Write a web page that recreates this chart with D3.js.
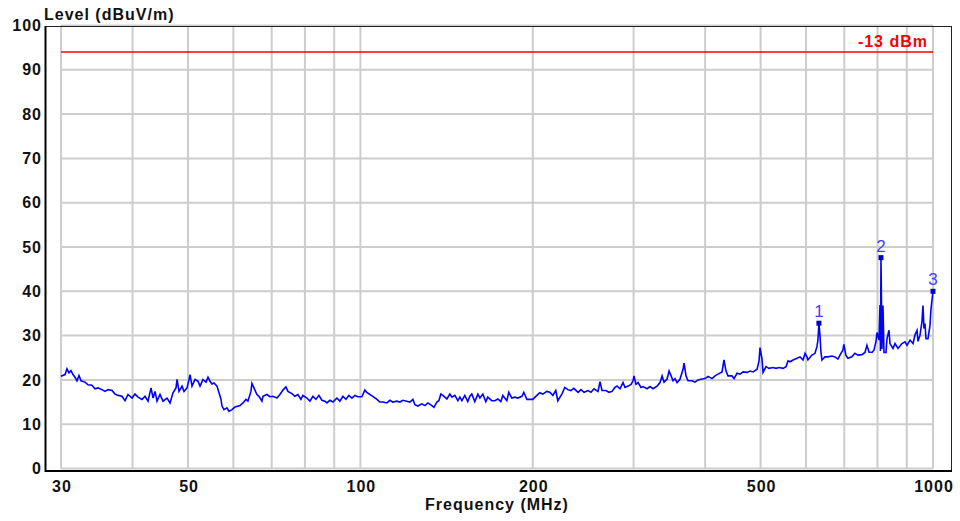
<!DOCTYPE html>
<html>
<head>
<meta charset="utf-8">
<script src="https://cdn.jsdelivr.net/npm/d3@7"></script>
<style>
body{margin:0;background:#fff;}
text{font-family:Arial,'Liberation Sans',sans-serif;}
</style>
</head>
<body>
<script>
// frequency (MHz), level (dBuV/m)
var trace = [
	[30.00,20.8],[30.49,21.2],[30.73,22.5],[30.98,21.6],[31.23,22.1],[31.48,21.2],[31.74,20.6],[31.99,19.8],
	[32.25,21.0],[32.51,19.8],[33.04,19.5],[33.44,18.9],[33.98,18.8],[34.40,18.0],[34.82,18.2],[35.38,17.8],
	[35.81,17.4],[36.24,17.8],[36.83,17.6],[37.28,16.8],[37.73,16.5],[38.34,16.3],[38.81,15.3],[39.28,16.7],
	[39.92,15.9],[40.40,16.8],[40.89,16.1],[41.56,15.6],[42.06,16.3],[42.57,15.2],[43.09,18.2],[43.44,15.9],
	[43.79,17.4],[44.14,15.2],[44.67,16.7],[45.22,15.2],[45.95,15.9],[46.51,14.8],[47.07,17.1],[47.64,18.2],
	[47.84,20.1],[48.22,17.4],[48.81,18.6],[49.20,17.4],[49.80,18.2],[50.20,20.1],[50.40,21.2],[50.81,18.6],
	[51.42,20.1],[52.05,19.7],[52.47,18.6],[53.10,20.1],[53.75,19.5],[54.18,20.6],[54.62,19.7],[55.06,19.1],
	[55.50,19.3],[56.18,18.6],[56.63,17.1],[57.09,15.6],[57.32,14.1],[57.78,13.3],[58.48,13.7],[58.95,12.9],
	[59.67,13.3],[60.15,13.7],[60.39,13.9],[61.61,14.2],[62.36,14.8],[63.11,15.6],[63.62,15.2],[64.39,17.4],
	[64.65,19.2],[65.17,18.2],[65.96,16.7],[66.50,16.3],[67.30,15.2],[67.57,16.3],[68.67,16.7],[69.50,16.2],
	[70.34,16.3],[71.49,15.9],[72.35,16.7],[73.23,17.7],[74.12,18.4],[74.72,17.4],[75.93,16.9],[76.85,16.3],
	[77.78,16.7],[78.73,15.6],[79.36,16.5],[80.65,15.9],[81.63,15.2],[82.62,16.3],[83.62,15.6],[84.63,16.5],
	[85.66,15.4],[86.70,15.2],[87.40,14.8],[88.46,15.4],[89.53,15.0],[90.98,15.9],[92.08,15.2],[93.20,16.3],
	[94.33,15.6],[95.48,16.5],[96.63,15.9],[97.81,16.5],[98.99,16.2],[100.6,16.2],[101.8,17.7],[102.6,17.2],
	[103.9,16.7],[105.1,16.3],[106.9,15.6],[108.1,15.0],[109.5,15.0],[111.2,14.8],[112.6,15.4],[113.9,15.0],
	[115.8,15.2],[117.2,15.0],[118.6,15.4],[120.5,15.2],[122.0,15.0],[123.5,15.6],[124.5,14.4],[126.0,14.1],
	[128.0,14.6],[129.6,14.2],[131.2,14.8],[133.3,14.2],[134.4,13.8],[136.0,15.0],[137.1,15.3],[138.2,16.8],
	[139.3,16.5],[141.6,15.7],[143.3,16.8],[144.5,16.1],[146.2,16.5],[148.0,15.3],[149.2,16.1],[150.4,15.3],
	[152.2,16.5],[154.0,15.1],[155.3,16.3],[156.5,16.8],[158.4,15.1],[160.4,16.8],[161.7,15.9],[163.6,16.8],
	[165.6,15.1],[166.9,16.1],[169.6,15.3],[171.7,15.3],[173.8,15.7],[175.9,15.1],[177.3,16.5],[180.2,15.3],
	[181.6,17.2],[183.8,15.9],[186.1,16.1],[188.3,15.9],[191.4,16.3],[192.9,17.2],[195.3,15.6],[197.6,15.6],
	[200.0,15.6],[203.3,16.5],[205.7,17.1],[208.2,16.8],[211.6,17.4],[214.2,17.2],[216.8,16.5],[219.4,17.6],
	[221.2,15.3],[224.8,16.8],[227.5,18.3],[230.3,17.8],[233.1,17.6],[235.9,18.1],[240.0,17.2],[242.8,17.8],
	[245.8,17.2],[249.7,17.6],[252.8,17.2],[255.8,18.0],[260.0,17.4],[262.1,19.6],[264.2,17.6],[268.4,17.6],
	[271.7,17.2],[275.0,17.4],[278.3,18.3],[280.7,18.6],[284.1,18.0],[287.5,19.4],[289.8,18.3],[293.3,18.6],
	[296.9,19.0],[299.3,19.8],[300.5,20.9],[302.9,19.0],[305.4,19.4],[309.1,18.3],[311.6,18.5],[316.7,18.0],
	[320.5,18.5],[324.4,18.0],[329.7,18.6],[333.7,19.4],[336.4,20.9],[339.1,19.5],[343.2,20.2],[346.0,22.0],
	[348.8,20.9],[351.6,19.8],[354.4,20.3],[357.3,19.4],[361.6,20.2],[366.0,22.4],[367.5,23.8],[370.4,20.9],
	[373.4,19.8],[379.4,19.8],[384.0,19.5],[388.7,20.0],[395.0,20.2],[399.8,20.3],[404.9,20.8],[411.2,20.3],
	[416.2,20.9],[421.2,21.3],[428.1,21.8],[431.5,24.5],[435.0,22.0],[438.5,20.9],[445.6,20.9],[449.3,20.3],
	[454.8,21.5],[460.3,21.3],[465.9,21.8],[473.5,21.7],[479.2,22.0],[485.0,21.8],[492.9,22.4],[496.8,24.3],
	[498.8,27.3],[502.8,24.7],[504.9,21.7],[511.0,23.0],[517.2,22.6],[525.6,22.8],[532.0,22.6],[538.5,22.8],
	[547.2,22.6],[553.8,23.0],[558.3,24.3],[562.8,24.1],[569.6,24.5],[578.9,24.9],[585.9,25.2],[593.0,24.5],
	[597.8,26.0],[602.4,25.2],[604.8,24.5],[614.6,25.6],[622.1,26.0],[627.1,27.5],[629.6,29.0],[632.1,32.8],
	[634.7,30.1],[637.2,26.3],[639.8,24.5],[647.5,25.2],[655.4,25.2],[666.0,25.4],[674.1,25.2],[682.2,24.7],
	[690.5,26.0],[696.0,26.7],[698.8,28.0],[704.4,25.6],[710.1,24.9],[721.6,25.2],[730.4,26.0],[739.2,25.6],
	[751.5,25.7],[760.6,26.2],[766.7,27.8],[772.9,26.3],[782.3,26.2],[788.6,26.7],[795.0,28.6],[798.2,30.7],
	[804.8,29.0],[808.0,36.9],[809.5,26.5],[811.3,47.6],[814.5,27.0],[817.8,36.8],[821.1,26.2],[827.7,26.2],
	[831.1,29.3],[837.8,31.2],[841.2,28.2],[851.4,27.1],[858.3,28.2],[868.8,27.1],[882.8,28.2],[893.5,28.6],
	[900.8,27.8],[911.7,29.0],[922.8,28.2],[930.2,30.2],[937.7,31.2],[941.5,28.7],[949.1,30.1],[956.6,33.1],
	[960.5,36.8],[964.4,31.6],[968.3,32.7],[972.2,29.3],[980.0,29.3],[988.0,32.3],[992.0,36.0],[1000,40.0]
];

var markerFreqs = [632.1,811.3,1000];
var markerLevels = [32.8,47.6,40.0];
var markerNames = ['1','2','3'];

var limitLevel = 94;
var limitLabel = '-13 dBm';

var xTickLabels = [30,50,100,200,500,1000];
var xGrid = [30,40,50,60,70,80,90,100,200,300,400,500,600,700,800,900,1000];
var yTicks = [0,10,20,30,40,50,60,70,80,90,100];

var width = 960, height = 521;

var x = d3.scaleLog().domain([30,1000]).range([61,933]);
var y = d3.scaleLinear().domain([0,100]).range([468.5,25.5]);

var svg = d3.select('body').append('svg').attr('width',width).attr('height',height);

// grid
svg.append('g').selectAll('line.v')
	.data(xGrid)
	.enter().append('line')
		.attr('x1',d=>x(d)).attr('x2',d=>x(d))
		.attr('y1',y(100)).attr('y2',y(0))
		.attr('stroke','#cdcdcd').attr('stroke-width',2);
svg.append('g').selectAll('line.h')
	.data(yTicks)
	.enter().append('line')
		.attr('x1',x(30)).attr('x2',x(1000))
		.attr('y1',d=>y(d)).attr('y2',d=>y(d))
		.attr('stroke','#cdcdcd').attr('stroke-width',2);

// frame
svg.append('line').attr('x1',45).attr('x2',952).attr('y1',26.5).attr('y2',26.5).attr('stroke','#222').attr('stroke-width',1);
svg.append('line').attr('x1',951.5).attr('x2',951.5).attr('y1',26).attr('y2',472).attr('stroke','#222').attr('stroke-width',1);
svg.append('line').attr('x1',45.5).attr('x2',45.5).attr('y1',26).attr('y2',472).attr('stroke','#000').attr('stroke-width',2);
svg.append('line').attr('x1',45).attr('x2',952).attr('y1',471).attr('y2',471).attr('stroke','#000').attr('stroke-width',2);

// axes labels only
var yAxis = svg.append('g').attr('transform','translate(45,0)')
	.call(d3.axisLeft(y).tickValues(yTicks).tickSize(0).tickPadding(3).tickFormat(d3.format('d')));
var xAxis = svg.append('g').attr('transform','translate(0,471)')
	.call(d3.axisBottom(x).tickValues(xTickLabels).tickSize(0).tickPadding(10).tickFormat(d3.format('d')));
[yAxis,xAxis].forEach(a=>{
	a.select('.domain').remove();
	a.selectAll('text')
		.attr('fill','#111')
		.style('font-family','Arial, "Liberation Sans", sans-serif')
		.style('font-size','16px').style('font-weight','bold').style('letter-spacing','1px');
});
xAxis.selectAll('text').attr('dx','0.5px');

svg.append('text').attr('x',44).attr('y',20)
	.attr('fill','#111').style('font-size','16px').style('font-weight','bold').style('letter-spacing','1px')
	.text('Level (dBuV/m)');
svg.append('text').attr('x',497).attr('y',510).attr('text-anchor','middle')
	.attr('fill','#111').style('font-size','16px').style('font-weight','bold').style('letter-spacing','1px')
	.text('Frequency (MHz)');

// limit line
svg.append('line')
	.attr('x1',x(30)).attr('x2',x(1000))
	.attr('y1',y(limitLevel)).attr('y2',y(limitLevel))
	.attr('stroke','#ff0000').attr('stroke-width',1.5);
svg.append('text').attr('x',928).attr('y',47).attr('text-anchor','end')
	.attr('fill','#ff0000').style('font-size','16px').style('font-weight','bold').style('letter-spacing','1px')
	.text(limitLabel);

// trace
var line = d3.line().x(d=>x(d[0])).y(d=>y(d[1]));
svg.append('path').datum(trace)
	.attr('d',line)
	.attr('fill','none').attr('stroke','#0000ff').attr('stroke-width',1.6);

// markers
var mk = svg.append('g').selectAll('g')
	.data(markerFreqs.map((f,i)=>({f:f,v:markerLevels[i],n:markerNames[i]})))
	.enter().append('g');
mk.append('rect')
	.attr('x',d=>x(d.f)-2.5).attr('y',d=>y(d.v)-2.5)
	.attr('width',5).attr('height',5).attr('fill','#0000cc');
mk.append('text')
	.attr('x',d=>x(d.f)).attr('y',d=>y(d.v)-6)
	.attr('text-anchor','middle').attr('fill','#4040ff')
	.style('font-size','17px')
	.text(d=>d.n);
</script>
</body>
</html>
